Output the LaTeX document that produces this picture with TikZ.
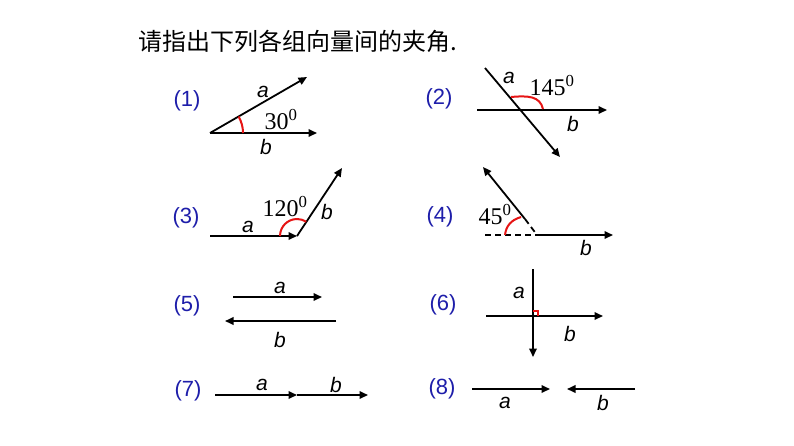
\documentclass[tikz,border=0pt]{standalone}
\usepackage{fontspec}
\setmainfont{Liberation Serif}
\setsansfont{Liberation Sans}
\newfontfamily\cjk{Noto Sans CJK SC}
\usetikzlibrary{arrows.meta,calc}
\definecolor{lblblue}{RGB}{30,30,170}
\definecolor{arcred}{RGB}{230,20,20}
\begin{document}
\begin{tikzpicture}[x=1pt,y=-1pt,
  vec/.style={line width=1.8pt,-{Triangle[length=8.5pt,width=7.5pt]}},
  seg/.style={line width=1.8pt},
  dsh/.style={line width=1.8pt,dash pattern=on 6pt off 4pt},
  ang/.style={line width=2pt,draw=arcred},
  num/.style={font=\sffamily\fontsize{22}{22}\selectfont,text=lblblue,inner sep=0pt},
  vl/.style={font=\sffamily\itshape\fontsize{21}{21}\selectfont,inner sep=0pt},
  deg/.style={font=\rmfamily\fontsize{24}{24}\selectfont,inner sep=0pt}]
\fill[white] (0,0) rectangle (794,445);
\useasboundingbox (0,0) rectangle (794,445);
\node[anchor=west,inner sep=0pt,font=\cjk\fontsize{24}{24}\selectfont] (title) at (138,41) {请指出下列各组向量间的夹角.};
% (1)
\node[num] (n1) at (187,101) {(1)};
\coordinate (o1) at (210,133);
\coordinate (a1) at (307,77);
\coordinate (b1) at (317,133);
\draw[vec] (o1) -- (a1);
\draw[vec] (o1) -- (b1);
\draw[ang] ($(o1)+(33,0)$) arc[start angle=0,end angle=-30,radius=33];
\node[vl] (la1) at (263,92) {a};
\node[deg] (d1) at (281,120) {30\textsuperscript{0}};
\node[vl] (lb1) at (266,147) {b};
% (2)
\node[num] (n2) at (439,99) {(2)};
\coordinate (b2s) at (477,110);
\coordinate (b2e) at (607,110);
\coordinate (a2s) at (485,68);
\coordinate (a2e) at (560,157);
\draw[vec] (b2s) -- (b2e);
\draw[vec] (a2s) -- (a2e);
\coordinate (r2s) at (511,97);
\coordinate (r2e) at (543,109);
\draw[ang] (r2s) .. controls (528,95.5) and (540,96) .. (r2e);
\node[vl] (la2) at (509,78) {a};
\node[deg] (d2) at (552,86) {145\textsuperscript{0}};
\node[vl] (lb2) at (573,124) {b};
% (3)
\node[num] (n3) at (186,218) {(3)};
\coordinate (a3s) at (210,236);
\coordinate (o3) at (297,236);
\coordinate (b3e) at (342,168);
\draw[vec] (a3s) -- (o3);
\draw[vec] (o3) -- (b3e);
\draw[ang] ($(o3)+(-17,0)$) arc[start angle=-180,end angle=-57,radius=17];
\node[vl] (la3) at (248,227) {a};
\node[deg] (d3) at (285,207) {120\textsuperscript{0}};
\node[vl] (lb3) at (327,212) {b};
% (4)
\node[num] (n4) at (440,217) {(4)};
\coordinate (a4s) at (525,219);
\coordinate (a4e) at (483,167);
\coordinate (o4) at (537,235);
\coordinate (d4l) at (485,235);
\coordinate (b4e) at (613,235);
\draw[vec] (a4s) -- (a4e);
\draw[dsh] (a4s) -- (o4);
\draw[dsh] (d4l) -- (o4);
\draw[vec] (o4) -- (b4e);
\coordinate (r4s) at (505,235);
\coordinate (r4e) at (521,217);
\draw[ang] (r4s) .. controls (506,226) and (511,220) .. (r4e);
\node[deg] (d4) at (495,215) {45\textsuperscript{0}};
\node[vl] (lb4) at (586,248) {b};
% (5)
\node[num] (n5) at (187,306) {(5)};
\coordinate (a5s) at (233,297);
\coordinate (a5e) at (322,297);
\coordinate (b5s) at (336,321);
\coordinate (b5e) at (225,321);
\draw[vec] (a5s) -- (a5e);
\draw[vec] (b5s) -- (b5e);
\node[vl] (la5) at (280,288) {a};
\node[vl] (lb5) at (280,340) {b};
% (6)
\node[num] (n6) at (443,305) {(6)};
\coordinate (a6s) at (533,269);
\coordinate (a6e) at (533,357);
\coordinate (b6s) at (486,316);
\coordinate (b6e) at (603,316);
\draw[vec] (a6s) -- (a6e);
\draw[vec] (b6s) -- (b6e);
\coordinate (o6) at (533,316);
\draw[arcred,line width=1.5pt] ($(o6)+(0,-5)$) -- ($(o6)+(5,-5)$) -- ($(o6)+(5,0)$);
\node[vl] (la6) at (519,293) {a};
\node[vl] (lb6) at (570,334) {b};
% (7)
\node[num] (n7) at (188,391) {(7)};
\coordinate (a7s) at (215,395);
\coordinate (m7) at (297,395);
\coordinate (b7e) at (368,395);
\draw[vec] (a7s) -- (m7);
\draw[vec] (m7) -- (b7e);
\node[vl] (la7) at (262,385) {a};
\node[vl] (lb7) at (336,385) {b};
% (8)
\node[num] (n8) at (442,389) {(8)};
\coordinate (a8s) at (472,389);
\coordinate (a8e) at (550,389);
\coordinate (b8s) at (635,389);
\coordinate (b8e) at (567,389);
\draw[vec] (a8s) -- (a8e);
\draw[vec] (b8s) -- (b8e);
\node[vl] (la8) at (505,403) {a};
\node[vl] (lb8) at (603,403) {b};
\end{tikzpicture}
\end{document}
